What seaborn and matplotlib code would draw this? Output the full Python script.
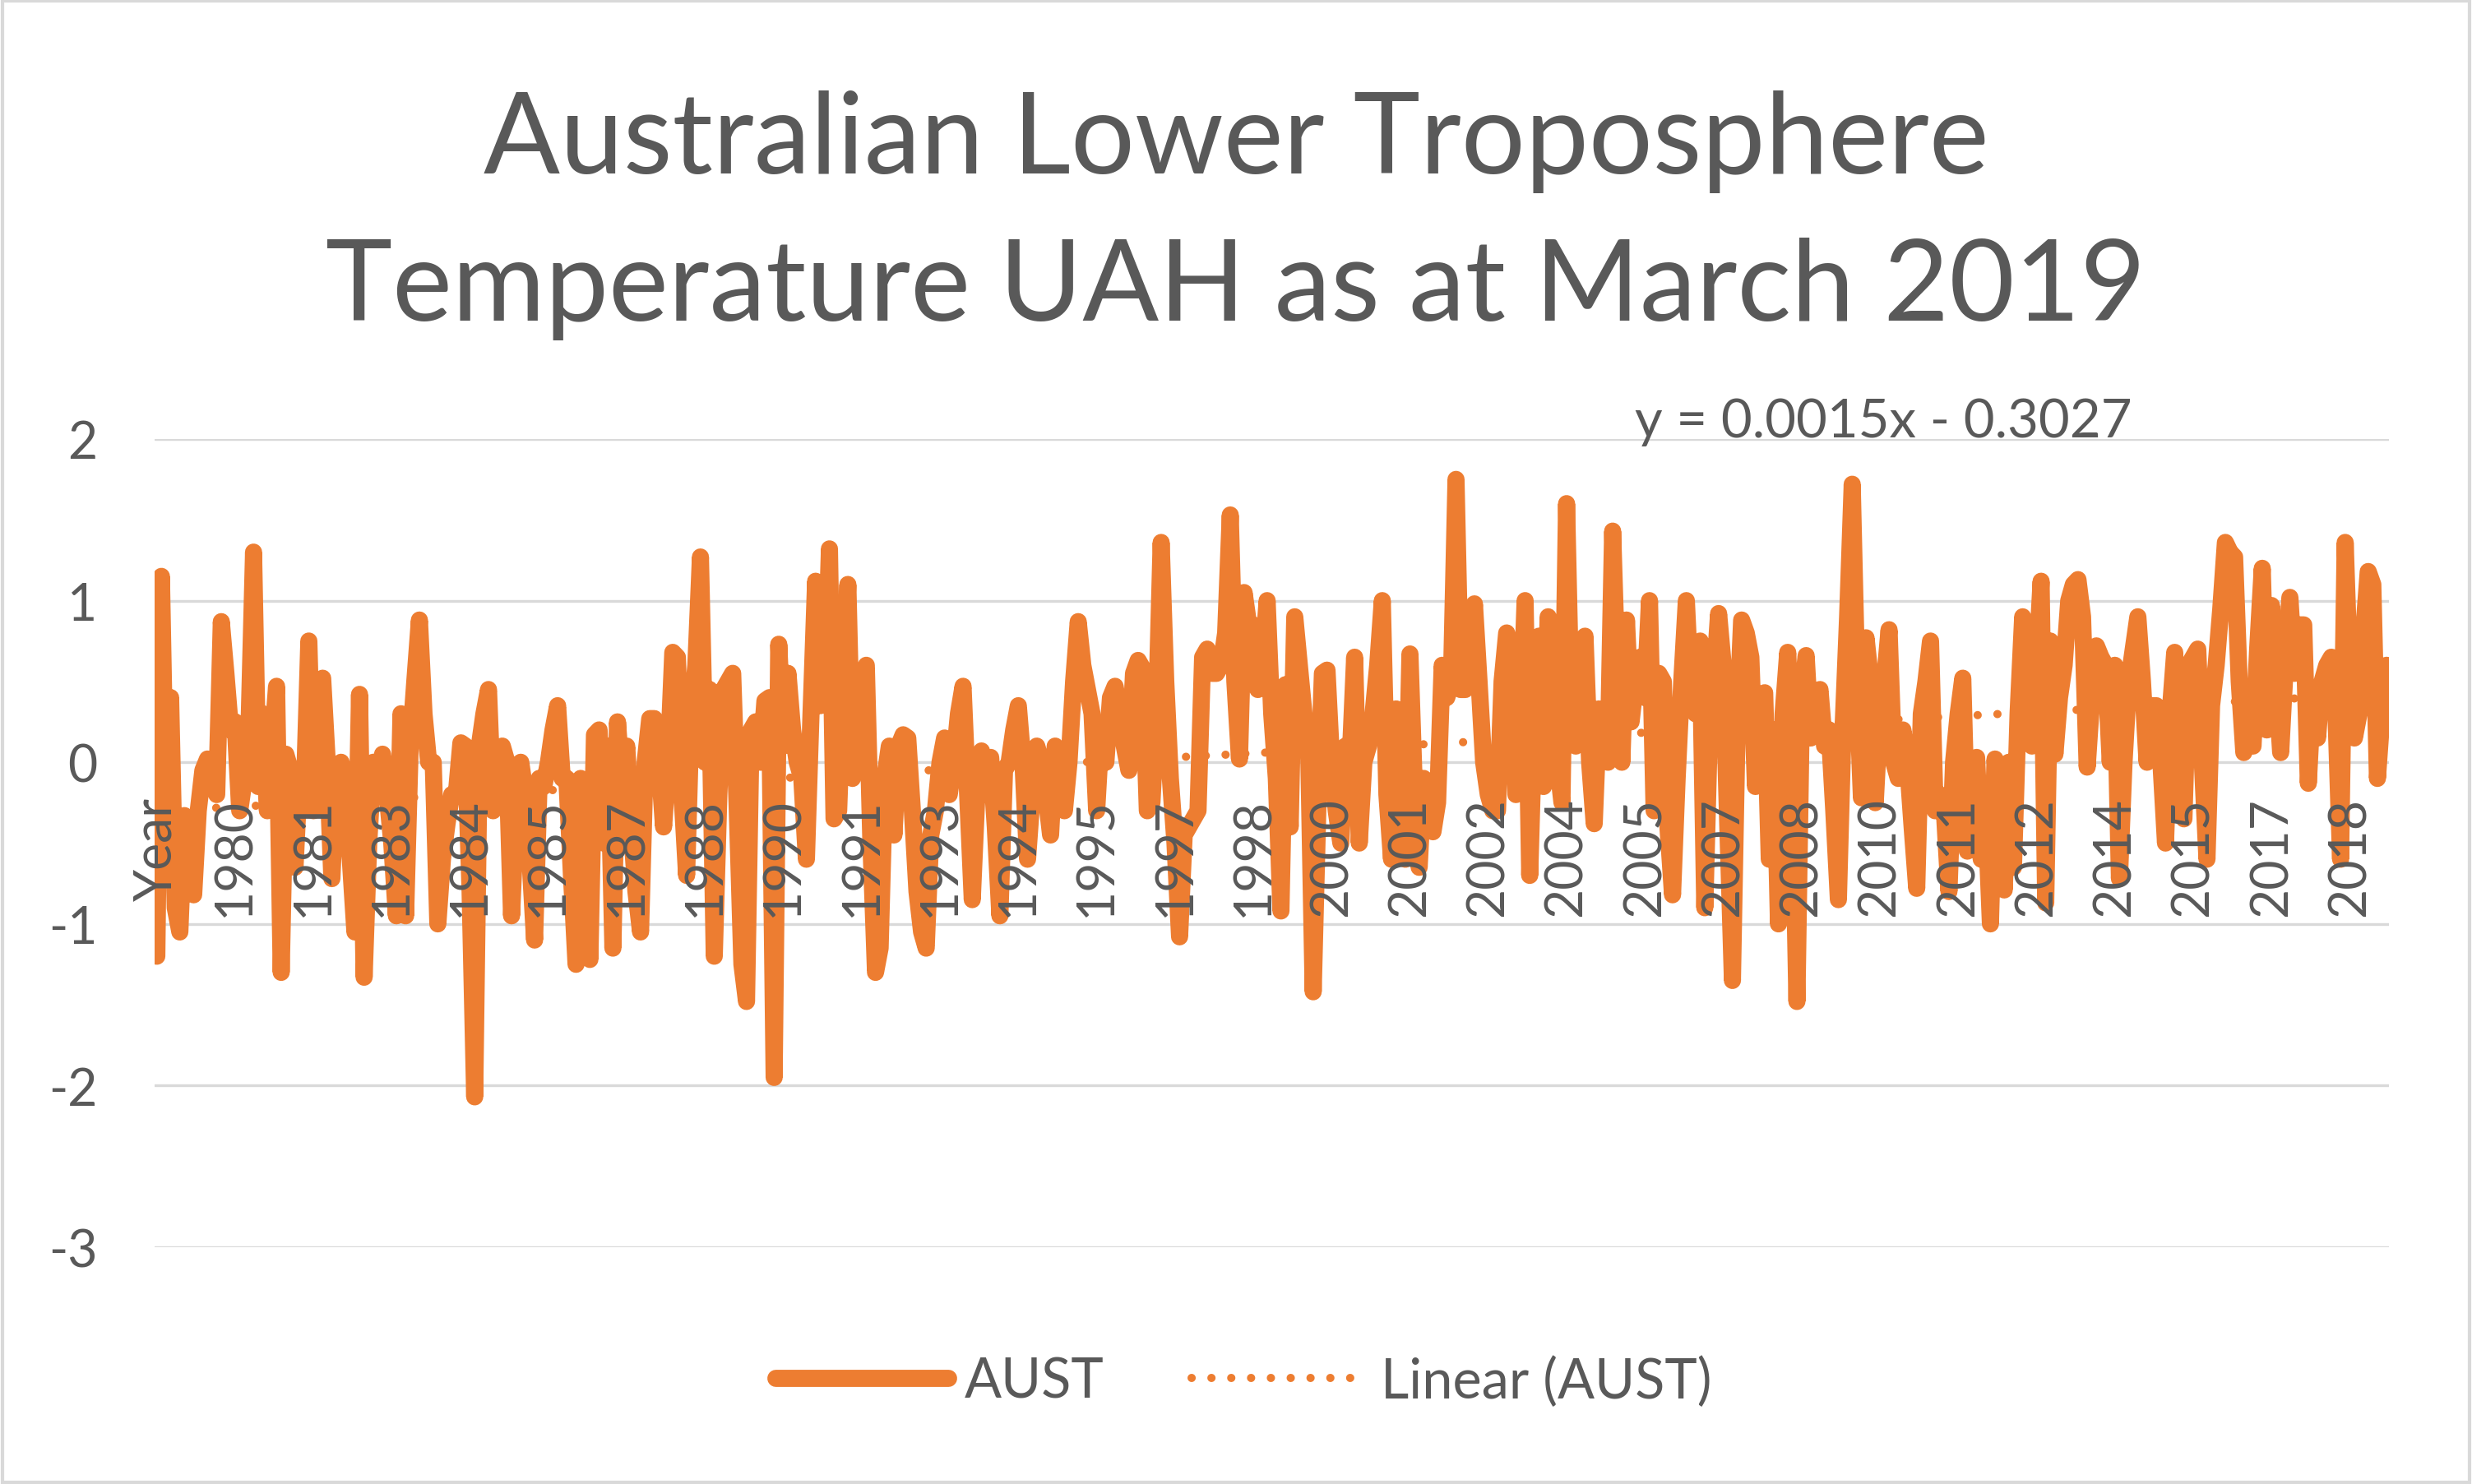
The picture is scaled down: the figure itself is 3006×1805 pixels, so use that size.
import numpy as np
import pandas as pd
import matplotlib
matplotlib.use('Agg')
import matplotlib.pyplot as plt
from matplotlib.lines import Line2D
from matplotlib.patches import Rectangle
import seaborn as sns

sns.set_theme(style='white')
plt.rcParams['font.family'] = ['Lato', 'DejaVu Sans']
plt.rcParams['axes.unicode_minus'] = False

# ===== Data (monthly AUST anomaly) =====
aust_1 = [-1.2, 1.15, -0.35, 0.4, -0.9, -1.05, -0.33, -0.5, -0.82, -0.3,
          -0.05, 0.02, -0.1, -0.2, 0.87, 0.55, 0.2, 0.25, -0.3, -0.1,
          0.2, 1.3, -0.15, 0.3, -0.3, 0.1, 0.47, -1.3, 0.05, -0.05,
          -0.65, -0.05, -0.2, 0.75, -0.3, 0.5, 0.52, 0.0, -0.72, -0.1,
          0.0, -0.25, -0.6, -1.05, 0.42, -1.33, -0.5, 0.0, -0.1, 0.05,
          -0.2, -0.5, -0.95, 0.3]
aust_2 = [-0.95, 0.1, 0.5, 0.88, 0.3, 0.0, 0.0, -1.0, -0.6, -0.38,
          -0.2, -0.2, 0.12, 0.1, -0.8, -2.07, 0.1, 0.3, 0.45, -0.3,
          0.0, 0.1, 0.0, -0.95, -0.3, 0.0, -0.2, -0.6, -1.1, -0.1,
          -0.15, 0.0, 0.2, 0.35, -0.1, -0.1, -0.7, -1.25, -0.1, -0.3,
          -1.22, 0.17, 0.2, -0.5, 0.1, -1.15, 0.25, -0.15, 0.1, -0.4,
          -0.8, -1.05, 0.0, 0.27]
aust_3 = [0.27, 0.0, -0.4, 0.0, 0.68, 0.65, -0.2, -0.7, 0.3, 0.6,
          1.27, 0.0, 0.45, -1.2, -0.2, 0.45, 0.5, 0.55, -0.3, -1.25,
          -1.48, 0.2, 0.25, 0.0, 0.38, 0.4, -1.95, 0.73, 0.1, 0.55,
          0.2, 0.0, -0.1, -0.6, 0.3, 1.12, 0.35, 0.4, 1.32, -0.35,
          -0.3, 0.5, 1.1, -0.1, 0.2, 0.5, 0.6, -0.5, -1.3, -1.15,
          -0.1, 0.1, -0.45, 0.1]
aust_4 = [0.17, 0.15, -0.3, -0.8, -1.05, -1.15, -0.45, -0.3, 0.0, 0.15,
          -0.2, 0.0, 0.3, 0.47, -0.2, -0.85, -0.2, 0.07, -0.2, 0.03,
          -0.4, -0.95, -0.05, 0.0, 0.2, 0.35, 0.0, -0.6, -0.2, 0.1,
          0.0, -0.2, -0.45, 0.1, 0.0, -0.3, 0.0, 0.5, 0.87, 0.6,
          0.45, 0.3, -0.3, 0.2, 0.0, 0.4, 0.47, 0.3, 0.1, -0.05,
          0.55, 0.63, 0.58, -0.3]
aust_5 = [-0.25, 0.3, 1.36, 0.5, -0.1, -0.5, -1.08, -0.45, -0.4, -0.35,
          -0.3, 0.65, 0.7, 0.55, 0.55, 0.6, 0.8, 1.53, 0.5, 0.02,
          1.05, 0.85, 0.85, 0.45, 0.6, 1.0, 0.3, -0.1, -0.92, 0.48,
          -0.4, 0.9, 0.6, 0.3, 0.1, -1.42, -0.3, 0.55, 0.57, 0.0,
          -0.3, -0.5, 0.1, 0.0, 0.65, -0.5, 0.0, 0.1, 0.3, 0.6,
          1.0, -0.2, -0.6, 0.33]
aust_6 = [0.2, -0.6, 0.67, -0.2, -0.65, -0.1, -0.25, -0.43, -0.25, 0.6,
          0.4, 0.5, 1.75, 0.45, 0.45, 0.6, 0.98, 0.5, 0.0, -0.2,
          -0.3, -0.3, 0.5, 0.8, 0.7, -0.2, 0.2, 1.0, -0.7, 0.3,
          0.78, -0.15, 0.9, 0.5, 0.0, -0.25, 1.6, 0.3, 0.1, 0.4,
          0.78, 0.0, -0.38, 0.33, 0.1, 0.0, 1.43, 0.5, 0.0, 0.88,
          0.25, 0.5, 0.65, 0.4, 1.0]
aust_7 = [-0.3, 0.55, 0.5, -0.4, -0.82, -0.1, 0.5, 1.0, 0.4, 0.3,
          0.75, -0.9, 0.2, 0.5, 0.92, 0.6, -0.4, -1.35, 0.2, 0.88,
          0.8, 0.65, -0.15, 0.3, 0.43, -0.6, 0.2, -1.0, 0.3, 0.68,
          0.0, -1.48, 0.4, 0.66, 0.15, 0.3, 0.45, 0.1, 0.2, -0.3,
          -0.85, 0.2, 0.9, 1.72, 0.5, -0.22, 0.77, 0.5, -0.25, 0.3,
          0.5, 0.82, 0.0, -0.1]
aust_8 = [0.2, 0.0, -0.4, -0.78, 0.3, 0.5, 0.75, -0.3, -0.2, -0.3,
          -0.8, 0.0, 0.3, 0.52, -0.55, -0.2, 0.03, -0.6, -0.3, -1.0,
          0.02, -0.4, -0.79, 0.0, -0.65, 0.3, 0.9, 0.4, 0.1, 0.6,
          1.12, -0.87, 0.75, 0.05, 0.4, 0.6, 1.0, 1.1, 1.13, 0.9,
          -0.03, 0.4, 0.72, 0.65, 0.6, 0.0, 0.6, -0.72, 0.0, 0.5,
          0.7, 0.9, 0.5, 0.0]
aust_9 = [0.35, 0.35, 0.0, -0.5, 0.3, 0.68, -0.3, -0.35, 0.6, 0.65,
          0.7, 0.0, -0.6, 0.35, 0.6, 0.95, 1.36, 1.3, 1.27, 0.5,
          0.06, 0.35, 0.1, 0.7, 1.2, 0.2, 0.97, 0.5, 0.06, 0.6,
          1.02, 0.55, 0.85, 0.85, -0.13, 0.42, 0.15, 0.5, 0.6, 0.65,
          0.3, -0.6, 1.36, 0.5, 0.15, 0.3, 0.8, 1.18, 1.1, -0.1,
          0.3, 0.6]

# category labels, Excel shows every 17th one
tick_labels = ['Year', '1980', '1981', '1983', '1984', '1985', '1987', '1988',
               '1990', '1991', '1993', '1994', '1995', '1997', '1998', '2000',
               '2001', '2002', '2004', '2005', '2007', '2008', '2010', '2011',
               '2012', '2014', '2015', '2017', '2018']
label_step = 17

# Excel linear trendline (x = 1..n)
trend_slope = 0.0015
trend_intercept = -0.3027

aust = aust_1 + aust_2 + aust_3 + aust_4 + aust_5 + aust_6 + aust_7 + aust_8 + aust_9
df = pd.DataFrame({'idx': np.arange(len(aust)), 'AUST': aust})
df['trend'] = trend_slope * (df['idx'] + 1) + trend_intercept

ORANGE = '#ED7D31'
GREY = '#595959'
GRID = '#D9D9D9'
DOTS = (0, (0.01, 2.4))
LW = 7.5

# ===== Plot =====
fig = plt.figure(figsize=(15.03, 9.03), dpi=200)
ax = fig.add_axes([0.0625, 0.1595, 0.9039, 0.5443])

sns.lineplot(data=df, x='idx', y='trend', ax=ax, color=ORANGE, lw=3.6,
             linestyle=DOTS, dash_capstyle='round')
sns.lineplot(data=df, x='idx', y='AUST', ax=ax, color=ORANGE, lw=LW,
             solid_joinstyle='round', solid_capstyle='round')

# category axis crosses at 0 (must be set before the tick labels)
ax.spines['bottom'].set_position(('data', 0))
for s in ax.spines.values():
    s.set_visible(False)

ax.set_xlim(-0.5, len(aust) - 0.5)
ax.set_ylim(-3, 2)
ax.set_yticks(range(-3, 3))
ax.set_xticks(range(0, len(aust), label_step))
ax.set_xticklabels(tick_labels)
ax.set_xlabel('')
ax.set_ylabel('')

ax.yaxis.grid(True, color=GRID, lw=1.2)
ax.xaxis.grid(False)
ax.set_axisbelow(True)
# Excel draws the category labels over the series line
ax.xaxis.set_zorder(5)

ax.tick_params(axis='x', length=0, labelsize=22.5, colors=GREY, pad=15, labelrotation=90)
ax.tick_params(axis='y', length=0, labelsize=22.5, colors=GREY, pad=25)

fig.text(0.5, 0.855, 'Australian Lower Troposphere\nTemperature UAH as at March 2019',
         ha='center', va='center', fontsize=49.5, color=GREY, linespacing=1.53)
fig.text(0.762, 0.7154, f'y = {trend_slope}x - {abs(trend_intercept)}',
         ha='center', va='center', fontsize=23.5, color=GREY)

handles = [Line2D([], [], color=ORANGE, lw=LW),
           Line2D([], [], color=ORANGE, lw=3.6, linestyle=DOTS, dash_capstyle='round')]
fig.legend(handles, ['AUST', 'Linear (AUST)'], loc='center', bbox_to_anchor=(0.503, 0.069),
           ncol=2, frameon=False, fontsize=24, handlelength=3.15, columnspacing=1.6,
           handletextpad=0.3, labelcolor=GREY)

fig.patches.append(Rectangle((0.001, 0.001), 0.998, 0.998, transform=fig.transFigure,
                             fill=False, edgecolor=GRID, lw=1.5))

fig.savefig('out.png', dpi=200)
